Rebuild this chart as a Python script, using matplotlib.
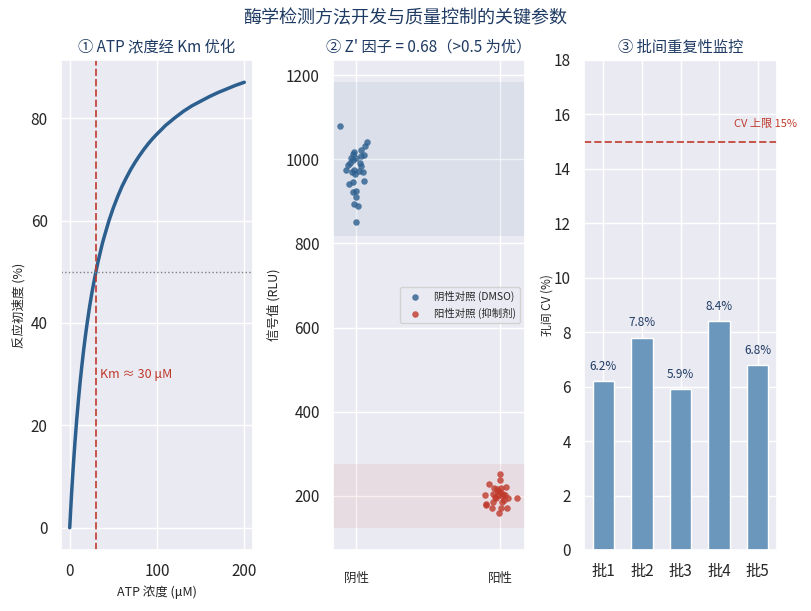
import matplotlib
matplotlib.use("Agg")
import matplotlib.pyplot as plt
import seaborn as sns

sns.set_theme(style="darkgrid")
plt.rcParams['font.family'] = ['Noto Sans CJK SC', 'DejaVu Sans']
plt.rcParams['axes.unicode_minus'] = False

# ---------------- data ----------------
atp_conc = [0, 1, 2, 3, 4, 5, 6, 8, 10, 12, 14, 16, 18, 20, 22.5, 25, 27.5, 30,
            32.5, 35, 37.5, 40, 45, 50, 55, 60, 65, 70, 75, 80, 85, 90, 95, 100,
            110, 120, 130, 140, 150, 160, 170, 180, 190, 200]
velocity = [0, 3.2, 6.3, 9.1, 11.8, 14.3, 16.7, 21.1, 25.0, 28.6, 31.8, 34.8,
            37.5, 40.0, 42.9, 45.5, 47.8, 50.0, 52.0, 53.8, 55.6, 57.1, 60.0,
            62.5, 64.7, 66.7, 68.4, 70.0, 71.4, 72.7, 73.9, 75.0, 76.0, 76.9,
            78.6, 80.0, 81.3, 82.4, 83.3, 84.2, 85.0, 85.7, 86.4, 87.0]
km_value = 30
half_vmax = 50

neg_x = [-0.109, 0.074, 0.060, 0.034, -0.017, -0.021, -0.033, -0.021, 0.034,
         0.053, -0.058, -0.072, -0.017, -0.010, 0.030, 0.037, 0.023, -0.046,
         -0.021, 0.053, -0.024, -0.003, -0.003, -0.017, 0.011, -0.003, -0.030,
         0.000, -0.040, 0.045]
neg_y = [1080, 1042, 1031, 1022, 1018, 1013, 1002, 998, 1008, 1009, 987, 974,
         975, 966, 992, 984, 971, 942, 946, 949, 921, 925, 911, 893, 888, 850,
         969, 1004, 990, 970]
pos_x = [0.995, 0.995, 0.919, 0.954, 0.977, 1.005, 1.039, 0.891, 0.947, 0.981,
         1.012, 1.030, 1.051, 1.114, 0.898, 0.945, 1.012, 0.942, 1.005, 1.044,
         0.988, 0.970, 1.023, 0.900, 0.985, 1.000, 0.960, 1.020]
pos_y = [251, 237, 227, 219, 217, 219, 221, 202, 204, 202, 199, 202, 195, 195,
         181, 184, 184, 171, 170, 170, 160, 194, 190, 178, 212, 208, 196, 205]
neg_band = [818, 1183]
pos_band = [124, 275]
group_labels = ['阴性', '阳性']
series_labels = ['阴性对照 (DMSO)', '阳性对照 (抑制剂)']

batches = ['批1', '批2', '批3', '批4', '批5']
cv_values = [6.2, 7.8, 5.9, 8.4, 6.8]
cv_limit = 15

# ---------------- style ----------------
NAVY = '#1f3b63'
BLUE = '#2c5f8e'
RED = '#c0392b'
BAR = '#6b97bc'

W, H = 811, 611
fig = plt.figure(figsize=(W / 100, H / 100), dpi=100)

def box(l, r, t=60, b=550):
    return [l / W, (H - b) / H, (r - l) / W, (b - t) / H]

ax1 = fig.add_axes(box(61, 253))
ax2 = fig.add_axes(box(333, 525))
ax3 = fig.add_axes(box(584, 777))

fig.suptitle('酶学检测方法开发与质量控制的关键参数', fontsize=13, color=NAVY, y=0.985)

# Panel 1
ax1.plot(atp_conc, velocity, color=BLUE, lw=2.5)
ax1.axvline(km_value, color=RED, ls='--', lw=1.4, alpha=0.85)
ax1.axhline(half_vmax, color='gray', ls=':', lw=1)
ax1.text(km_value + 5, 30, 'Km ≈ 30 μM', color=RED, fontsize=9, va='center')
ax1.set_title('① ATP 浓度经 Km 优化', fontsize=11, color=NAVY, pad=6)
ax1.set_xlabel('ATP 浓度 (μM)', fontsize=9)
ax1.set_ylabel('反应初速度 (%)', fontsize=9)
ax1.set_xticks([0, 100, 200])
ax1.set_yticks([0, 20, 40, 60, 80])
ax1.tick_params(labelsize=11)

# Panel 2
ax2.axhspan(neg_band[0], neg_band[1], color=BLUE, alpha=0.08, lw=0)
ax2.axhspan(pos_band[0], pos_band[1], color=RED, alpha=0.08, lw=0)
ax2.scatter(neg_x, neg_y, s=22, color=BLUE, alpha=0.8, label=series_labels[0], lw=0)
ax2.scatter(pos_x, pos_y, s=22, color=RED, alpha=0.8, label=series_labels[1], lw=0)
ax2.set_xticks([0, 1])
ax2.set_xticklabels(group_labels, fontsize=9)
ax2.tick_params(axis='x', pad=10)
ax2.tick_params(axis='y', labelsize=11)
ax2.set_xlim(-0.16, 1.17)
ax2.set_yticks([200, 400, 600, 800, 1000, 1200])
ax2.set_title("② Z' 因子 = 0.68（>0.5 为优）", fontsize=11, color=NAVY, pad=6)
ax2.set_ylabel('信号值 (RLU)', fontsize=9)
ax2.legend(loc='center right', fontsize=7.5, frameon=True, markerscale=1.0)

# Panel 3
x = list(range(len(batches)))
bars = ax3.bar(x, cv_values, width=0.55, color=BAR, edgecolor='white', lw=1)
for xi, v in zip(x, cv_values):
    ax3.text(xi, v + 0.3, f'{v}%', ha='center', va='bottom', fontsize=8.5, color=NAVY)
ax3.axhline(cv_limit, color=RED, ls='--', lw=1.4, alpha=0.85)
ax3.text(3.39, cv_limit + 0.45, 'CV 上限 15%', color=RED, fontsize=8, ha='left', va='bottom')
ax3.set_xticks(x)
ax3.set_xticklabels(batches, fontsize=11)
ax3.set_ylim(0, 18)
ax3.set_yticks(range(0, 19, 2))
ax3.tick_params(axis='y', labelsize=11)
ax3.set_title('③ 批间重复性监控', fontsize=11, color=NAVY, pad=6)
ax3.set_ylabel('孔间 CV (%)', fontsize=8.5, labelpad=0)

fig.savefig('out.png', dpi=100)
